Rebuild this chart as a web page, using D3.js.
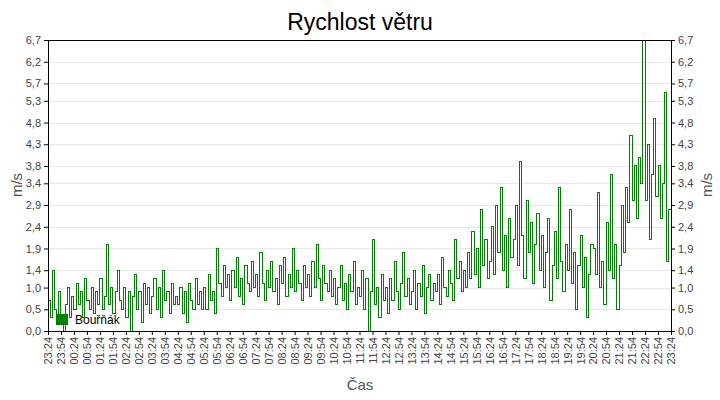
<!DOCTYPE html>
<html><head><meta charset="utf-8">
<script src="https://cdn.jsdelivr.net/npm/d3@7"></script>
<style>body{margin:0;background:#fff;font-family:Arial,"Liberation Sans",sans-serif}</style>
</head><body><svg id="c" width="720" height="400"></svg>
<script>
const yTicks=[0,0.5,1.0,1.4,1.9,2.4,2.9,3.4,3.8,4.3,4.8,5.3,5.7,6.2,6.7];
const yTickLabels=["0,0","0,5","1,0","1,4","1,9","2,4","2,9","3,4","3,8","4,3","4,8","5,3","5,7","6,2","6,7"];
const xTickLabels=(()=>{const a=[];for(let i=0;i<=48;i++){const m=(23*60+24+i*30)%1440;a.push(String(Math.floor(m/60)).padStart(2,"0")+":"+String(m%60).padStart(2,"0"));}return a;})();
const speed=[
0.7,0.3,1.4,0.5,0.2,0.9,0.3,0.0,0.6,1.0,0.3,0.8,
0.5,1.1,0.6,0.9,0.3,1.2,0.7,0.5,1.0,0.4,0.9,0.6,
1.2,0.5,0.8,2.0,0.6,1.0,0.4,0.9,1.4,0.7,0.5,1.0,
0.3,0.9,0.0,0.8,1.3,0.5,0.9,0.2,1.1,0.6,1.0,0.4,
0.8,1.2,0.5,1.0,0.3,1.4,0.7,0.9,0.4,1.1,0.6,0.8,
0.6,1.0,0.4,0.9,0.2,1.1,0.7,0.5,1.2,0.6,0.9,0.5,
1.0,0.5,1.3,0.7,0.9,0.4,1.9,1.1,0.8,1.5,1.0,1.3,
0.7,1.4,1.0,1.7,0.8,1.2,0.6,1.5,1.1,0.9,1.6,1.0,
1.3,0.8,1.8,1.1,0.7,1.4,1.0,1.6,0.9,1.2,0.6,1.5,
1.1,1.7,0.8,1.3,1.0,1.9,0.9,1.4,1.1,0.7,1.5,1.0,
1.3,0.8,1.6,1.0,2.0,1.2,0.7,1.5,1.1,0.9,1.4,0.8,
1.2,0.6,1.0,1.5,0.7,1.1,0.5,1.3,0.9,1.6,0.6,1.0,
0.8,1.4,0.5,1.2,0.0,0.9,2.1,0.6,1.0,0.3,1.3,0.7,
1.0,0.4,1.2,0.7,1.6,0.9,0.5,1.1,1.8,0.8,1.2,0.6,
0.9,1.4,0.5,1.1,0.8,1.5,0.4,1.0,1.3,0.7,1.1,0.9,
1.3,0.6,1.7,1.0,0.8,1.4,1.1,0.7,2.1,1.2,1.6,0.9,
1.4,1.0,1.8,1.2,2.3,1.3,1.9,1.0,2.8,1.5,2.1,1.2,
1.6,2.4,1.3,2.9,1.8,3.3,1.4,2.2,1.0,2.6,1.7,2.1,
2.9,1.5,3.9,2.2,1.2,3.0,1.8,2.5,1.1,2.0,2.7,1.4,
2.2,1.0,1.8,2.6,0.7,1.5,2.3,1.2,3.3,1.6,0.9,2.0,
1.4,2.8,1.1,1.8,0.5,1.5,2.2,1.0,1.7,0.3,1.3,2.0,
1.9,1.3,3.2,1.0,1.6,0.6,2.5,1.4,3.6,1.2,2.0,0.5,
1.5,2.9,1.8,3.3,2.5,4.5,3.0,3.8,2.6,4.0,3.4,6.7,
3.0,4.3,2.1,3.6,4.9,3.1,3.8,2.6,3.4,5.5,1.6,2.8,2.7];

const svg=d3.select("#c");
const L=48,R=671,T=40,B=331;
const x=d3.scaleLinear().domain([0,288]).range([L,R]);
const y=d3.scaleLinear().domain([0,6.7]).range([B,T]);
const gray="#444";
svg.append("g").selectAll("line").data(yTicks.slice(1)).join("line")
 .attr("x1",L).attr("x2",R).attr("y1",d=>Math.round(y(d))+0.5).attr("y2",d=>Math.round(y(d))+0.5).attr("stroke","#e8e8e8");
svg.append("path").datum(speed).attr("fill","none").attr("stroke","#008000").attr("stroke-width",1)
 .attr("shape-rendering","crispEdges")
 .attr("d",d3.line().x((d,i)=>x(i)).y(d=>y(d)).curve(d3.curveStepAfter));
const fmt=(d,i)=>yTickLabels[i];
const ga=svg.append("g").attr("transform",`translate(${L},0)`).call(d3.axisLeft(y).tickValues(yTicks).tickFormat(fmt).tickSize(4));
const gb=svg.append("g").attr("transform",`translate(${R},0)`).call(d3.axisRight(y).tickValues(yTicks).tickFormat(fmt).tickSize(4));
const xt=d3.scaleLinear().domain([0,48]).range([L,R]);
const gx=svg.append("g").attr("transform",`translate(0,${B})`).call(d3.axisBottom(xt).tickValues(d3.range(49)).tickFormat(i=>xTickLabels[i]).tickSize(4));
gx.selectAll("text").attr("transform","rotate(-90)").attr("text-anchor","end").attr("x",-6).attr("y",0).attr("dy","0.35em");
svg.append("line").attr("x1",L).attr("x2",R).attr("y1",T+0.5).attr("y2",T+0.5).attr("stroke","#000");
[ga,gb,gx].forEach(g=>{g.selectAll("text").attr("fill",gray).style("font-size","11px").style("font-family","Arial,'Liberation Sans'");g.select(".domain").attr("stroke","#000");g.selectAll(".tick line").attr("stroke","#000");});
svg.append("text").attr("x",360).attr("y",30).attr("text-anchor","middle").style("font-size","23px").attr("fill","#000").text("Rychlost větru");
svg.append("text").attr("x",360).attr("y",390).attr("text-anchor","middle").style("font-size","15px").attr("fill","#555").text("Čas");
svg.append("text").attr("transform","translate(22,185) rotate(-90)").attr("text-anchor","middle").style("font-size","15px").attr("fill","#555").text("m/s");
svg.append("text").attr("transform","translate(712,185) rotate(-90)").attr("text-anchor","middle").style("font-size","15px").attr("fill","#555").text("m/s");
svg.append("rect").attr("x",56).attr("y",314).attr("width",12).attr("height",11).attr("fill","#008000");
svg.append("text").attr("x",75).attr("y",324).style("font-size","12px").attr("fill","#000").text("Bouřňák");
</script></body></html>
